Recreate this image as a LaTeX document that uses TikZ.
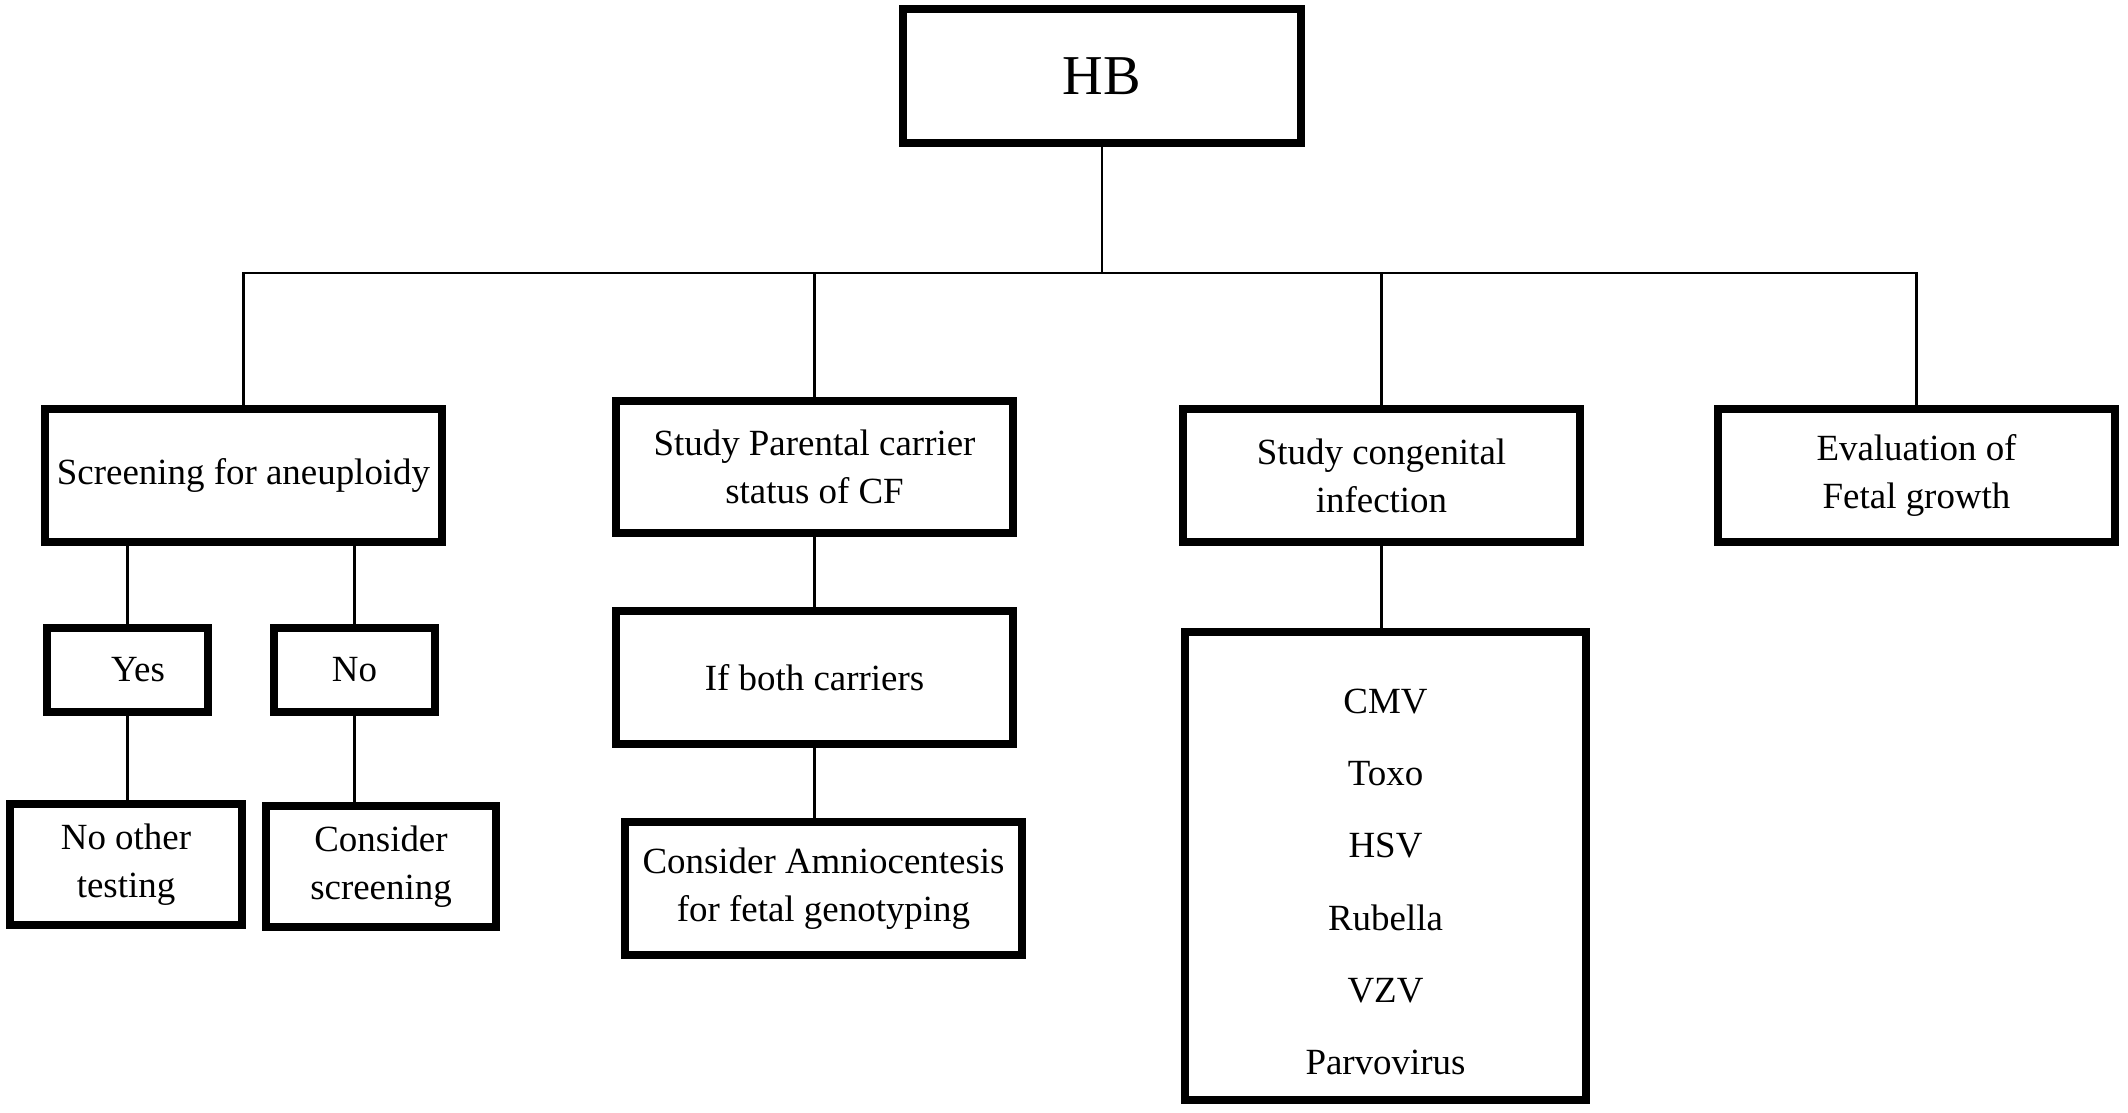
\documentclass[tikz,border=0pt]{standalone}
\usepackage{fontspec}
\setmainfont{Liberation Serif}
\usetikzlibrary{positioning,calc}
\tikzset{box/.style={draw, rectangle, line width=2.3pt, align=center, inner sep=0pt,
    minimum width=3.97cm, minimum height=1.33cm, font=\fontsize{10.5}{13.6}\selectfont}}
\tikzset{small box/.style={box, minimum width=1.61cm, minimum height=0.84cm}}
\tikzset{link/.style={line width=0.6pt}}

\begin{document}
\begin{tikzpicture}[x=0.01cm, y=-0.01cm]
        \useasboundingbox (0,0) rectangle (2128,1112);
        \node[box, minimum width=3.98cm, minimum height=1.34cm, font=\fontsize{16}{19}\selectfont] (hb) at (1102,76) {HB}; %root
        \coordinate (bus) at (1102,273);

        \node[box] (scr) at (243.5,475.5) {Screening for aneuploidy};
        \node[box, minimum height=1.32cm] (par) at (814.5,467) {Study Parental carrier\\status of CF};
        \node[box] (cong) at (1381.5,475.5) {Study congenital\\infection};
        \node[box] (eval) at (1916.5,475.5) {Evaluation of\\Fetal growth};

        \node[small box] (yes) at (127.5,670) {\hspace{6pt}Yes};
        \node[small box] (no) at (354.5,670) {No};
        \node[box, minimum width=2.32cm, minimum height=1.21cm] (noother) at (126,864.5) {No other\\testing};
        \node[box, minimum width=2.30cm, minimum height=1.21cm] (cscr) at (381,866.5) {Consider\\screening};

        \node[box] (both) at (814.5,677.5) {If both carriers};
        \node[box] (amnio) at (823.5,888.5) {Consider Amniocentesis\\for fetal genotyping};

        \node[box, minimum width=4.01cm, minimum height=4.68cm, font=\fontsize{10.5}{20.5}\selectfont] (list) at (1385.5,866)
            {\rule{0pt}{16pt}CMV\\Toxo\\HSV\\Rubella\\VZV\\Parvovirus};

        \draw[link] (hb.south) -- (bus);
        \draw[link] (scr.north) |- (eval.north |- bus) -- (eval.north);
        \draw[link] (par.north) -- (par.north |- bus);
        \draw[link] (cong.north) -- (cong.north |- bus);

        \draw[link] (yes.north) -- (yes.north |- scr.south);
        \draw[link] (no.north) -- (no.north |- scr.south);
        \draw[link] (yes.south) -- (yes.south |- noother.north);
        \draw[link] (no.south) -- (no.south |- cscr.north);

        \draw[link] (par.south) -- (both.north);
        \draw[link] (both.south) -- (both.south |- amnio.north);
        \draw[link] (cong.south) -- (cong.south |- list.north);
\end{tikzpicture}
\end{document}
